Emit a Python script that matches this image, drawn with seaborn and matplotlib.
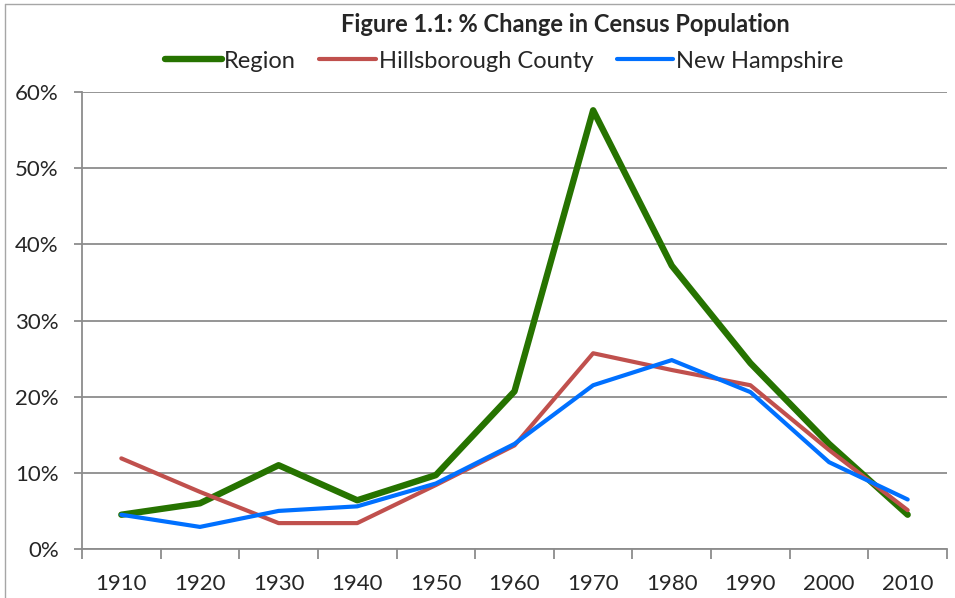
import pandas as pd
import matplotlib.pyplot as plt
import seaborn as sns
from matplotlib.ticker import FuncFormatter, MultipleLocator
from matplotlib.lines import Line2D

years = [1910, 1920, 1930, 1940, 1950, 1960, 1970, 1980, 1990, 2000, 2010]
region = [4.5, 6.0, 11.0, 6.4, 9.7, 20.7, 57.6, 37.2, 24.4, 13.8, 4.5]
hillsborough = [11.9, 7.5, 3.4, 3.4, 8.4, 13.6, 25.7, 23.5, 21.5, 13.0, 5.1]
new_hampshire = [4.5, 2.9, 5.0, 5.6, 8.6, 13.8, 21.5, 24.8, 20.6, 11.4, 6.5]

series = ["Region", "Hillsborough County", "New Hampshire"]
colors = ["#267300", "#C0504D", "#0070FF"]
widths = [4.6, 3.0, 3.0]

df = pd.DataFrame({"Year": years, "Region": region,
                   "Hillsborough County": hillsborough,
                   "New Hampshire": new_hampshire})
long_df = df.melt(id_vars="Year", var_name="Series", value_name="Change")

sns.set_style("white")
plt.rcParams["font.family"] = ["Lato", "DejaVu Sans"]

fig = plt.figure(figsize=(9.55, 5.98), dpi=100)
ax = fig.add_axes([82 / 955, 1 - 549 / 598, 865 / 955, 457 / 598])

sns.lineplot(data=long_df, x="Year", y="Change", hue="Series",
             hue_order=series, palette=colors, legend=False, ax=ax,
             solid_capstyle="round")
for line, lw in zip(ax.get_lines(), widths):
    line.set_linewidth(lw)

grid_col = "#8C8C8C"
ax.set_ylim(0, 60)
ax.set_xlim(1905, 2015)
ax.yaxis.set_major_locator(MultipleLocator(10))
ax.yaxis.set_major_formatter(FuncFormatter(lambda v, p: f"{v:.0f}%"))
ax.grid(axis="y", color=grid_col, linewidth=1.3)
ax.set_axisbelow(True)

ax.set_xticks(years)
ax.set_xticklabels([str(y) for y in years])
ax.set_xticks([1905 + 10 * i for i in range(12)], minor=True)
ax.tick_params(axis="x", which="major", length=0, pad=18, labelsize=16)
ax.tick_params(axis="x", which="minor", length=7, width=1.3, color=grid_col,
               direction="out", bottom=True)
ax.tick_params(axis="y", length=5.8, width=1.3, color=grid_col, left=True,
               labelsize=16, pad=11)

for side in ["top", "right"]:
    ax.spines[side].set_visible(False)
for side in ["left", "bottom"]:
    ax.spines[side].set_color(grid_col)
    ax.spines[side].set_linewidth(1.3)

ax.set_xlabel("")
ax.set_ylabel("")

handles = [Line2D([0], [0], color=c, lw=lw, solid_capstyle="round")
           for c, lw in zip(colors, widths)]
fig.legend(handles, series, loc="center", bbox_to_anchor=(504 / 955, 1 - 61 / 598),
           ncol=3, frameon=False, fontsize=17, handlelength=2.4,
           handletextpad=0.1, columnspacing=1.0)

fig.text(565 / 955, 1 - 25 / 598, "Figure 1.1: % Change in Census Population",
         ha="center", va="center", fontsize=17, fontweight="bold")

fig.add_artist(Line2D([5 / 955, 1], [1 - 4 / 598, 1 - 4 / 598], color="#A6A6A6", lw=1))
fig.add_artist(Line2D([5 / 955, 5 / 955], [0, 1 - 4 / 598], color="#A6A6A6", lw=1))

fig.savefig("out.png", dpi=100)
plt.close()
